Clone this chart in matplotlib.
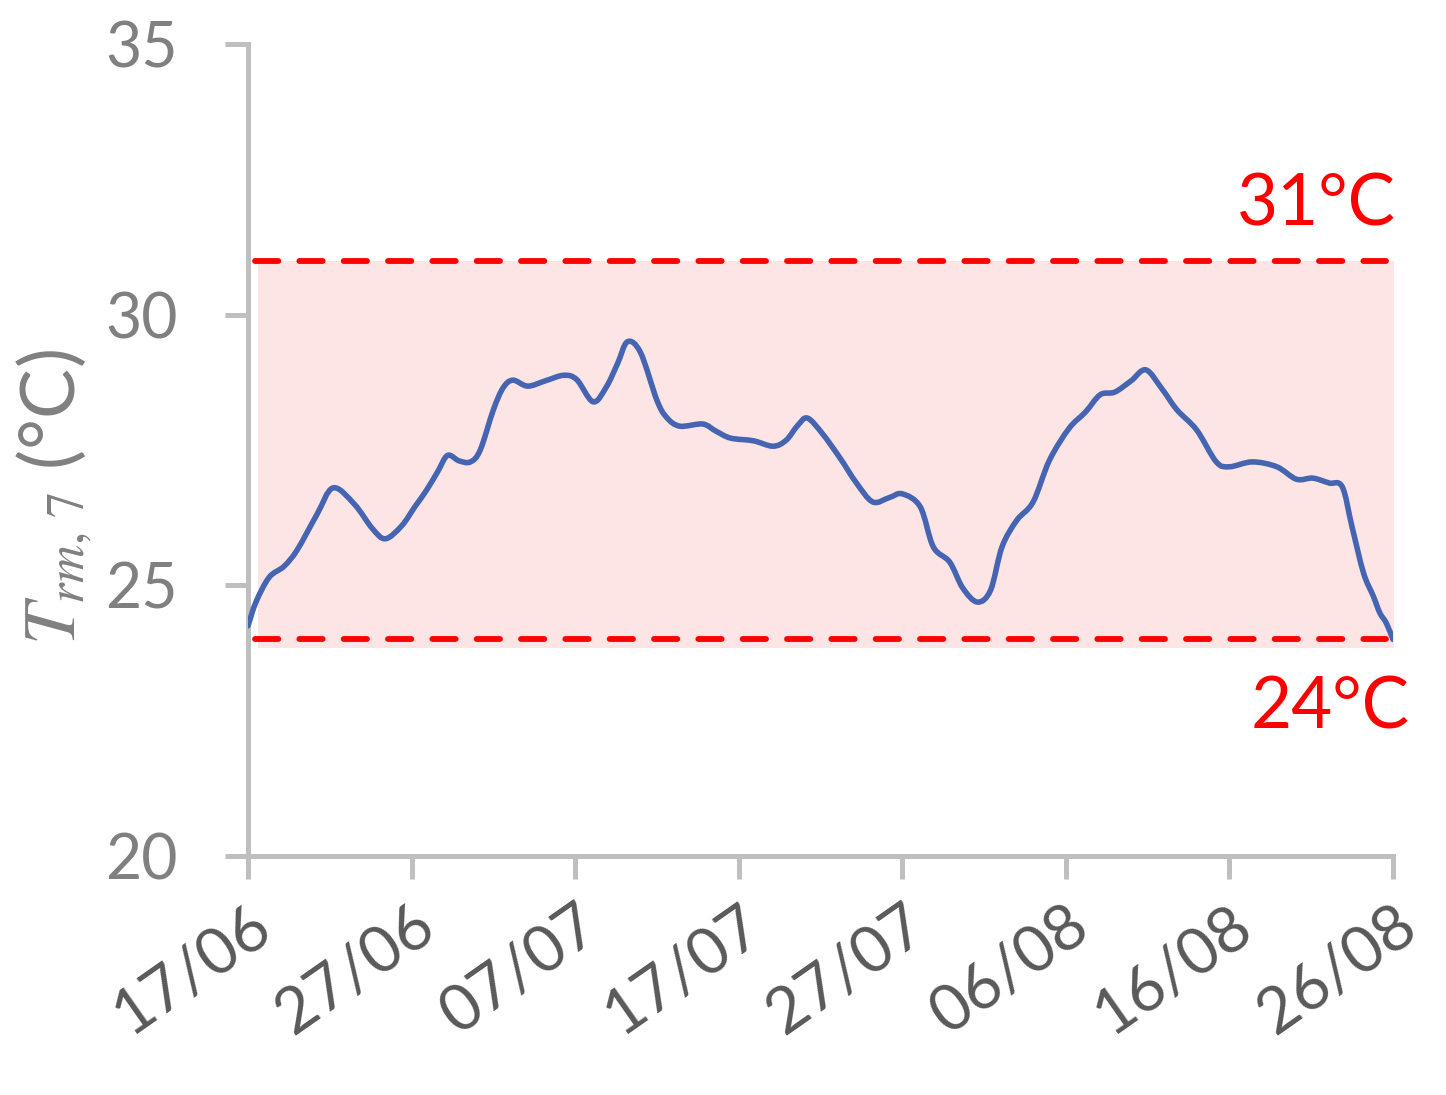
import matplotlib
matplotlib.use('Agg')
import matplotlib.pyplot as plt
from matplotlib.path import Path
from matplotlib.patches import PathPatch
import numpy as np

# Daily running-mean temperature (day 0 = 17/06)
DAYS = [0, 0.5, 1.3, 2.2, 3.0, 4.2, 5.2, 6.5, 7.6, 8.4, 9.4, 10.2, 10.9, 11.6, 12.2,
        12.9, 13.6, 14.2, 15.0, 15.6, 16.2, 17.1, 18.2, 19.3, 20.1, 21.1, 21.9, 22.6,
        23.2, 24.0, 25.0, 25.6, 26.4, 27.8, 28.6, 29.5, 30.9, 32.1, 32.9, 33.6, 34.2,
        35.1, 36.2, 37.2, 38.2, 39.2, 40.0, 41.1, 41.9, 42.9, 43.7, 44.6, 45.4, 46.1,
        47.0, 48.0, 49.0, 50.2, 51.2, 52.1, 53.0, 54.0, 54.9, 55.9, 56.8, 58.0, 59.2,
        60.0, 61.4, 62.9, 64.1, 65.1, 66.1, 66.9, 67.5, 68.2, 68.8, 69.2, 69.6, 70.0]
TRM7 = [24.25, 24.7, 25.15, 25.35, 25.65, 26.3, 26.8, 26.5, 26.05, 25.86, 26.1, 26.45,
        26.75, 27.1, 27.4, 27.3, 27.28, 27.5, 28.24, 28.65, 28.79, 28.68, 28.78, 28.88,
        28.8, 28.39, 28.66, 29.1, 29.5, 29.3, 28.42, 28.1, 27.94, 27.98, 27.85, 27.72,
        27.67, 27.57, 27.68, 27.95, 28.09, 27.81, 27.35, 26.89, 26.54, 26.62, 26.69,
        26.45, 25.71, 25.43, 24.95, 24.69, 24.91, 25.71, 26.2, 26.54, 27.31, 27.9,
        28.2, 28.52, 28.57, 28.78, 28.98, 28.62, 28.24, 27.87, 27.28, 27.19, 27.28,
        27.19, 26.96, 26.98, 26.89, 26.82, 26.08, 25.23, 24.8, 24.49, 24.3, 24.0]

XTICKS = [0, 10, 20, 30, 40, 50, 60, 70]
XTICK_LABELS = ['17/06', '27/06', '07/07', '17/07', '27/07', '06/08', '16/08', '26/08']
YTICKS = [20, 25, 30, 35]
LOWER, UPPER = 24, 31


def smooth_path(x, y):
    # Excel-style smoothed line: Catmull-Rom through the points as cubic Beziers
    p = np.column_stack([x, y])
    verts = [p[0]]
    codes = [Path.MOVETO]
    for i in range(len(p) - 1):
        p0 = p[i - 1] if i > 0 else p[i]
        p3 = p[i + 2] if i + 2 < len(p) else p[i + 1]
        c1 = p[i] + (p[i + 1] - p0) / 6
        c2 = p[i + 1] - (p3 - p[i]) / 6
        verts += [c1, c2, p[i + 1]]
        codes += [Path.CURVE4] * 3
    return Path(verts, codes)


plt.rcParams['font.family'] = ['Lato', 'DejaVu Sans']
plt.rcParams['mathtext.fontset'] = 'stix'

fig = plt.figure(figsize=(14.46, 10.95), dpi=100)
ax = fig.add_axes([0.1715, 0.2183, 0.9633 - 0.1715, 0.9598 - 0.2183])

# comfort band
ax.fill_between([0.6, 70.2], LOWER - 0.15, UPPER, color='#FDE5E5', lw=0, zorder=1)
for y in (LOWER, UPPER):
    ax.plot([0.4, 69.6], [y, y], color='#FF0000', lw=4.2, ls=(0, (4.0, 3.6)),
            dash_capstyle='round', zorder=2)

ax.add_patch(PathPatch(smooth_path(DAYS, TRM7), facecolor='none', edgecolor='#4565B2',
                       lw=4.0, joinstyle='round', capstyle='round', zorder=3))

ax.text(70.2, 31.64, '31°C', color='#FF0000', fontsize=51, ha='right',
        va='baseline', clip_on=False)
ax.text(71.0, 22.36, '24°C', color='#FF0000', fontsize=51, ha='right',
        va='baseline', clip_on=False)

ax.set_xlim(0, 70)
ax.set_ylim(20, 35)
ax.set_xticks(XTICKS)
ax.set_xticklabels(XTICK_LABELS, rotation=35, ha='right', rotation_mode='anchor',
                   fontsize=46, color='#595959')
ax.set_yticks(YTICKS)
ax.set_yticklabels([str(v) for v in YTICKS], fontsize=45, color='#808080')

for side in ('top', 'right'):
    ax.spines[side].set_visible(False)
for side in ('left', 'bottom'):
    ax.spines[side].set_color('#BFBFBF')
    ax.spines[side].set_linewidth(3.6)
ax.tick_params(axis='both', color='#BFBFBF', width=3.6, length=16.5)
ax.tick_params(axis='y', pad=34)
ax.tick_params(axis='x', pad=12)

fig.text(55 / 1446, 1 - 497 / 1095, r'$T_{rm,\,7}$ (°C)', rotation=90,
         ha='center', va='center', fontsize=54, color='#808080')

fig.savefig('out.png', dpi=100)
